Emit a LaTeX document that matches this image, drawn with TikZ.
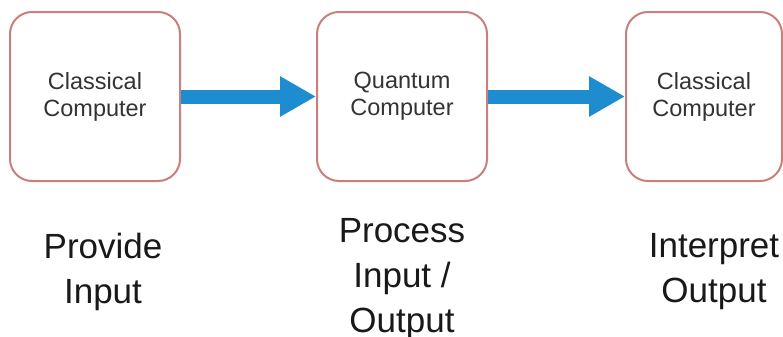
\documentclass[tikz,border=0pt]{standalone}
\usepackage{fontspec}
\setmainfont{Liberation Sans}
\usepackage{xcolor}
\usetikzlibrary{positioning,arrows.meta}

\definecolor{boxred}{HTML}{CC7F7A}
\definecolor{flowblue}{HTML}{1E8DD0}

\begin{document}
\begin{tikzpicture}[
    comp/.style={draw=boxred, line width=1pt, rounded corners=11pt,
      minimum width=85pt, minimum height=84.5pt, align=center,
      text=black!80, font=\fontsize{11.75}{13.5}\selectfont},
    task/.style={inner sep=0pt, align=center, text=black!90,
      font=\fontsize{17.5}{22.5}\selectfont},
    flow/.style={draw=flowblue, line width=7pt,
      -{Triangle[length=18pt,width=19pt]}}
  ]

     \useasboundingbox (0,0) rectangle (391.5pt,-168.5pt);

     % Define nodes
     \node[comp] at (47.5pt,-48.25pt)          (cin)  {Classical\\Computer};
     \node[comp, right=67.5pt of cin]         (qc)   {Quantum\\Computer};
     \node[comp, right=68.5pt of qc, minimum width=78pt] (cout) {Classical\\Computer};

     % Steps under the boxes
     \node[task, below=25.5pt of cin.south, xshift=4pt]    (provide)   {Provide\\Input};
     \node[task, below=18pt of qc.south]                   (process)   {Process\\Input /\\Output};
     \node[task, below=25.5pt of cout.south, xshift=5pt]   (interpret) {Interpret\\Output};

     % Connect the nodes
     \draw[flow] (cin) -- (qc);
     \draw[flow] (qc) -- (cout);

\end{tikzpicture}
\end{document}
